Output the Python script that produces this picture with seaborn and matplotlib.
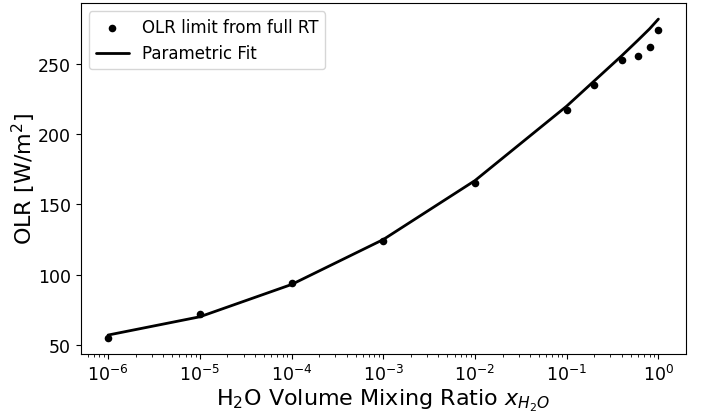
import numpy as np
import pandas as pd
import matplotlib
matplotlib.use("Agg")
import matplotlib.pyplot as plt
import seaborn as sns

# full RT points
x_rt = [1e-6, 1e-5, 1e-4, 1e-3, 1e-2, 1e-1, 0.2, 0.4, 0.6, 0.8, 1.0]
olr_rt = [55, 72, 94, 124, 165, 217, 235, 253, 256, 262, 274]

# parametric fit
x_fit = [1e-6, 1e-5, 1e-4, 1e-3, 1e-2, 1e-1, 0.2, 0.4, 0.6, 0.8, 1.0]
olr_fit = [57, 70, 93, 125, 167, 220, 238, 256, 267, 275, 282]

sns.set_style("ticks")
plt.rcParams['font.family'] = ['DejaVu Sans']
plt.rcParams['text.color'] = 'black'
plt.rcParams['axes.labelcolor'] = 'black'
plt.rcParams['xtick.color'] = 'black'
plt.rcParams['ytick.color'] = 'black'
plt.rcParams['axes.edgecolor'] = 'black'

df_rt = pd.DataFrame({"x": x_rt, "olr": olr_rt})
df_fit = pd.DataFrame({"x": x_fit, "olr": olr_fit})

fig, ax = plt.subplots(figsize=(7.13, 4.14), dpi=100)
sns.scatterplot(data=df_rt, x="x", y="olr", color="black", s=30, linewidth=0,
                label="OLR limit from full RT", ax=ax, zorder=3)
sns.lineplot(data=df_fit, x="x", y="olr", color="black", linewidth=2,
             label="Parametric Fit", ax=ax)
ax.set_xscale("log")
ax.margins(x=0.05, y=0.05)

ax.set_xlabel(r"H$_2$O Volume Mixing Ratio $x_{H_2O}$", fontsize=16, labelpad=2)
ax.set_ylabel(r"OLR [W/m$^2$]", fontsize=16, labelpad=0)
ax.tick_params(labelsize=12.5)
ax.set_yticks([50, 100, 150, 200, 250])
ax.set_xticks([1e-6, 1e-5, 1e-4, 1e-3, 1e-2, 1e-1, 1e0])
for s in ax.spines.values():
    s.set_visible(True)
ax.legend(loc="upper left", fontsize=12)

fig.subplots_adjust(left=0.113, right=0.962, top=0.99, bottom=0.143)
fig.savefig("out.png", dpi=100)
